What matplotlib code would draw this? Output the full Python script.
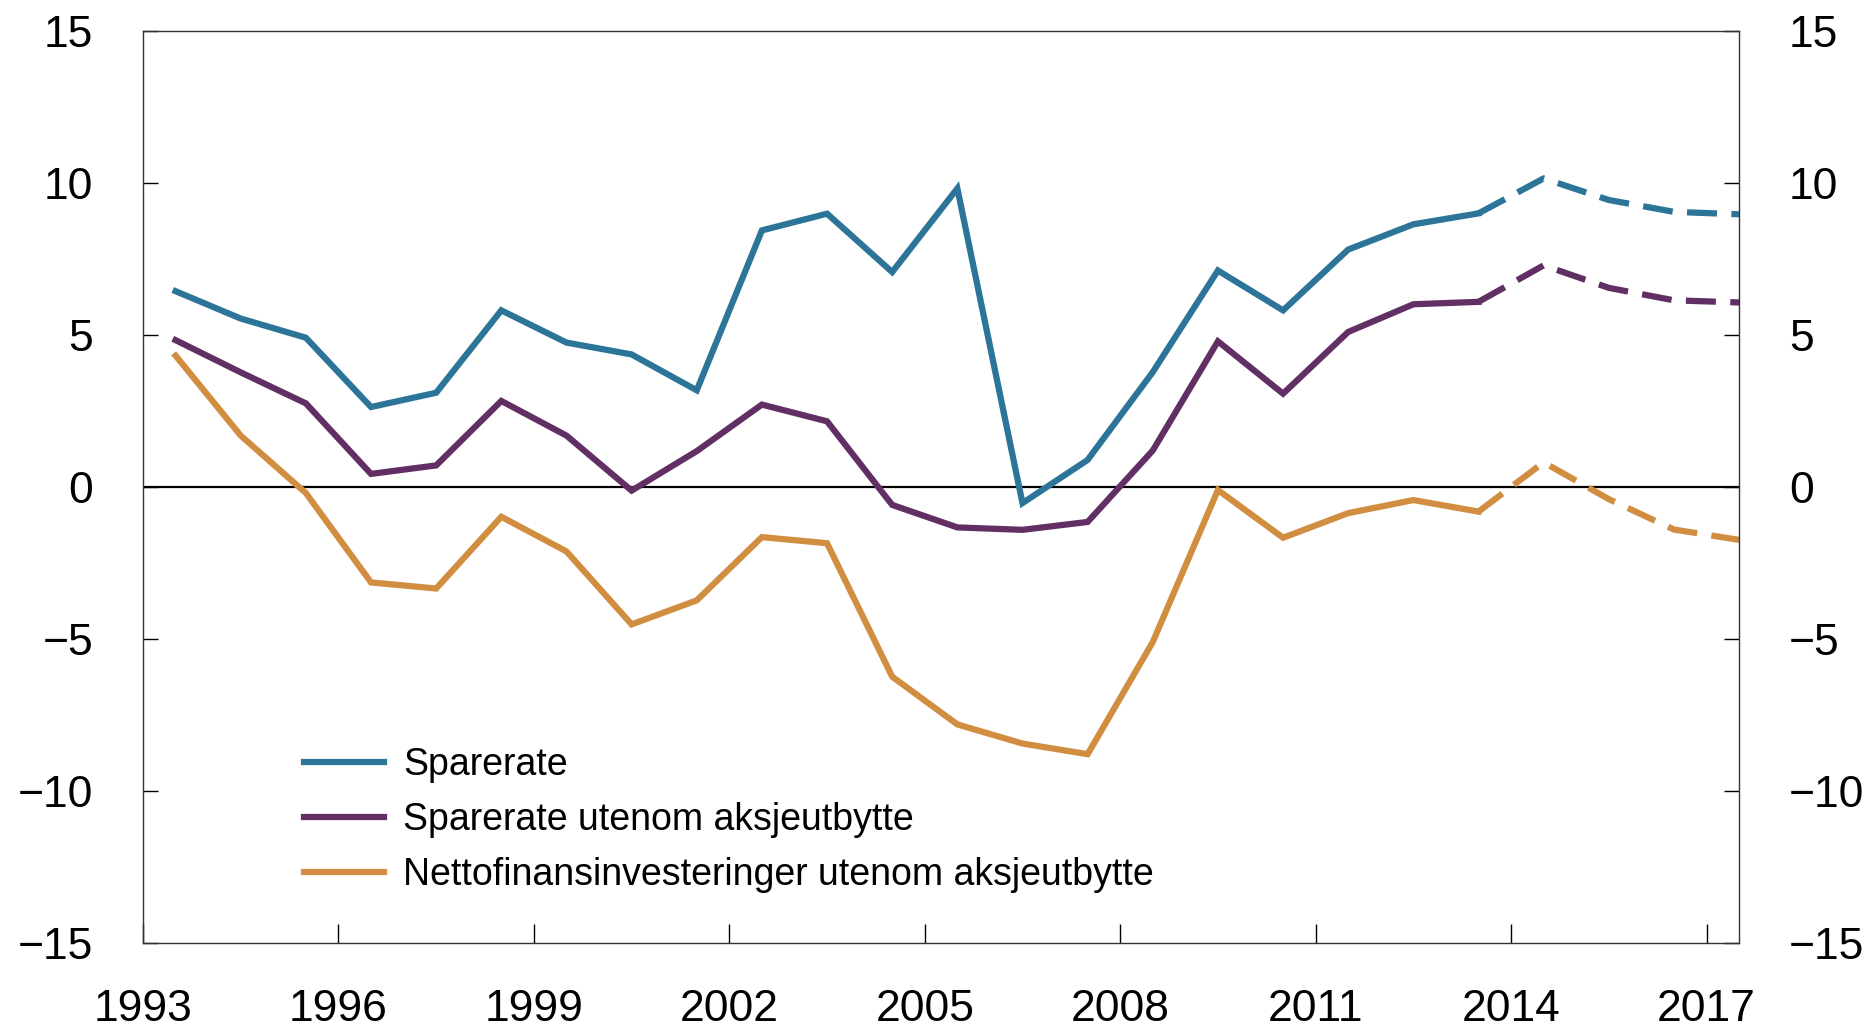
import numpy as np
import matplotlib
matplotlib.use("Agg")
import matplotlib.pyplot as plt

# data (annual, plotted at mid-year)
years = list(range(1993, 2018))
sparerate = [6.44, 5.54, 4.91, 2.63, 3.10, 5.81, 4.75, 4.36, 3.18, 8.44,
             8.99, 7.07, 9.82, -0.53, 0.89, 3.78, 7.12, 5.81, 7.81, 8.64,
             9.00, 10.15, 9.44, 9.05, 8.97]
sparerate_uten = [4.83, 3.77, 2.75, 0.43, 0.71, 2.83, 1.69, -0.12, 1.18, 2.71,
                  2.16, -0.59, -1.33, -1.41, -1.15, 1.20, 4.79, 3.07, 5.10, 6.01,
                  6.09, 7.29, 6.55, 6.14, 6.07]
nettofin = [4.32, 1.69, -0.20, -3.14, -3.34, -0.98, -2.12, -4.52, -3.73, -1.65,
            -1.85, -6.24, -7.81, -8.44, -8.79, -5.10, -0.10, -1.67, -0.86, -0.43,
            -0.81, 0.81, -0.40, -1.40, -1.74]
labels = ["Sparerate", "Sparerate utenom aksjeutbytte",
          "Nettofinansinvesteringer utenom aksjeutbytte"]
colors = ["#2C7599", "#612F63", "#D18E41"]
last_actual = 2013

plt.rcParams["font.family"] = ["Liberation Sans", "DejaVu Sans"]

fig = plt.figure(figsize=(18.72, 10.29), dpi=100)
ax = fig.add_axes([0.0764, 0.0836, 0.8526, 0.8863])

x = np.array(years) + 0.5
cut = years.index(last_actual)
for vals, lab, c in zip([sparerate, sparerate_uten, nettofin], labels, colors):
    v = np.array(vals)
    ax.plot(x[:cut + 1], v[:cut + 1], color=c, lw=4.5, label=lab,
            solid_joinstyle="miter")
    ax.plot(x[cut:], v[cut:], color=c, lw=4.5, dashes=(4.8, 2.3))

ax.axhline(0, color="black", lw=1.6, zorder=1)

ax.set_xlim(1993, 2017.5)
ax.set_ylim(-15, 15)
ax.set_xticks(range(1993, 2018, 3))
ax.set_yticks(range(-15, 16, 5))

ax.tick_params(axis="y", direction="in", left=True, right=True,
               labelleft=True, labelright=True, length=11, width=1,
               pad=36, labelsize=32)
ax.tick_params(axis="x", direction="in", length=14, width=1,
               pad=33, labelsize=32)
for s in ax.spines.values():
    s.set_linewidth(1.0)
    s.set_color("#333333")

leg = ax.legend(loc="center left", bbox_to_anchor=(0.1624, 0.203),
                bbox_transform=fig.transFigure, frameon=False, fontsize=27,
                handlelength=2.13, handletextpad=0.51, labelspacing=0.5,
                borderpad=0, borderaxespad=0)

fig.savefig("out.png", dpi=100)
